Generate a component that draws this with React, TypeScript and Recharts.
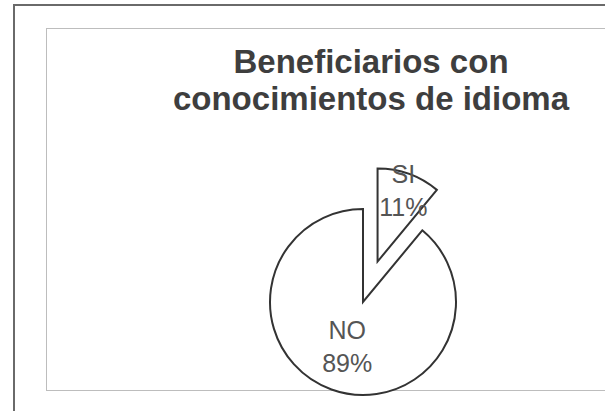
import React from 'react';
import { PieChart, Pie, Cell } from 'recharts';

const categories = ['SI', 'NO'];
const percentages = [11, 89];
const titleLines = ['Beneficiarios con', 'conocimientos de idioma'];

const data = categories.map((name, i) => ({ name, value: percentages[i] }));

const W = 605;
const H = 411;
const CX = 358;
const CY = 297;
const R = 93;
const EXPLODE = 43;
const RAD = Math.PI / 180;

const total = percentages.reduce((a, b) => a + b, 0);
const siMid = 90 - ((percentages[0] / total) * 360) / 2;
const siCx = CX + EXPLODE * Math.cos(siMid * RAD);
const siCy = CY - EXPLODE * Math.sin(siMid * RAD);

const labelFactor: Record<string, number> = { SI: 0.82, NO: 0.5 };

const makeLabel = (visible: string) => (props: any) => {
  const { cx, cy, midAngle, outerRadius, name, value } = props;
  if (name !== visible) return null;
  const f = labelFactor[name] ?? 0.6;
  const x = Number(cx) + f * outerRadius * Math.cos(-midAngle * RAD);
  const y = Number(cy) + f * outerRadius * Math.sin(-midAngle * RAD);
  return (
    <text
      x={x}
      y={y}
      textAnchor="middle"
      fill="#555"
      fontFamily="'Liberation Sans', Arial, sans-serif"
      fontSize={25}
    >
      <tspan x={x} y={y - 7}>{name}</tspan>
      <tspan x={x} y={y + 26}>{`${value}%`}</tspan>
    </text>
  );
};

export default function App() {
  return (
    <div style={{ position: 'absolute', left: 0, top: 0, width: W, height: H, background: '#fff', overflow: 'hidden' }}>
      <div style={{ position: 'absolute', left: 13, top: 4, width: 700, height: 500, borderLeft: '2px solid #6a6a6a', borderTop: '2px solid #6a6a6a' }} />
      <div style={{ position: 'absolute', left: 46, top: 28, width: 700, height: 361, border: '1px solid #bdbdbd' }} />
      {titleLines.map((t, i) => (
        <div
          key={t}
          style={{
            position: 'absolute',
            left: 121,
            width: 500,
            top: 43 + i * 37,
            lineHeight: '37px',
            textAlign: 'center',
            fontFamily: "'Liberation Sans', Arial, sans-serif",
            fontWeight: 'bold',
            fontSize: 33,
            color: '#3e3e3e',
            whiteSpace: 'nowrap',
          }}
        >
          {t}
        </div>
      ))}
      <div style={{ position: 'absolute', left: 0, top: 0 }}>
        <PieChart width={W} height={H}>
          <Pie
            data={data}
            dataKey="value"
            nameKey="name"
            cx={CX}
            cy={CY}
            outerRadius={R}
            startAngle={90}
            endAngle={-270}
            isAnimationActive={false}
            labelLine={false}
            label={makeLabel('NO')}
          >
            {data.map((d) => (
              <Cell
                key={d.name}
                fill={d.name === 'NO' ? '#fff' : 'none'}
                stroke={d.name === 'NO' ? '#333' : 'none'}
                strokeWidth={2}
              />
            ))}
          </Pie>
          <Pie
            data={data}
            dataKey="value"
            nameKey="name"
            cx={siCx}
            cy={siCy}
            outerRadius={R}
            startAngle={90}
            endAngle={-270}
            isAnimationActive={false}
            labelLine={false}
            label={makeLabel('SI')}
          >
            {data.map((d) => (
              <Cell
                key={d.name}
                fill={d.name === 'SI' ? '#fff' : 'none'}
                stroke={d.name === 'SI' ? '#333' : 'none'}
                strokeWidth={2}
              />
            ))}
          </Pie>
        </PieChart>
      </div>
    </div>
  );
}
